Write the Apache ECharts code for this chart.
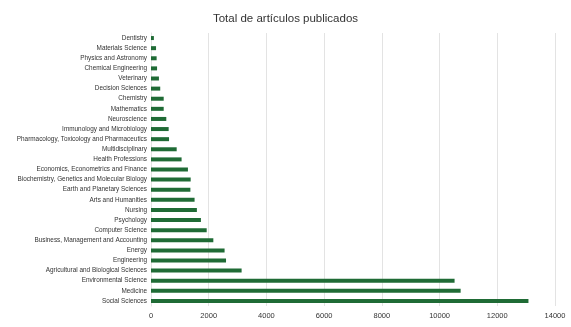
<!DOCTYPE html>
<html>
<head>
<meta charset="utf-8">
<script src="https://cdn.jsdelivr.net/npm/echarts@6/dist/echarts.min.js"></script>
<style>
  html, body { margin: 0; padding: 0; background: #fff; }
  #chart { width: 571px; height: 327px; }
</style>
</head>
<body>
<div id="chart"></div>
<script>
// categorias (de abajo hacia arriba)
const areas = [
  "Social Sciences", "Medicine", "Environmental Science",
  "Agricultural and Biological Sciences", "Engineering", "Energy",
  "Business, Management and Accounting", "Computer Science", "Psychology",
  "Nursing", "Arts and Humanities", "Earth and Planetary Sciences",
  "Biochemistry, Genetics and Molecular Biology", "Economics, Econometrics and Finance",
  "Health Professions", "Multidisciplinary", "Pharmacology, Toxicology and Pharmaceutics",
  "Immunology and Microbiology", "Neuroscience", "Mathematics", "Chemistry",
  "Decision Sciences", "Veterinary", "Chemical Engineering",
  "Physics and Astronomy", "Materials Science", "Dentistry"
];
const articulos = [
  13080, 10730, 10520, 3140, 2600, 2550, 2160, 1930, 1730,
  1590, 1510, 1365, 1375, 1280, 1060, 890, 625, 612, 530,
  440, 440, 320, 275, 210, 195, 175, 100
];
const xTicks = [0, 2000, 4000, 6000, 8000, 10000, 12000, 14000];

let chart = echarts.init(document.getElementById("chart"));

let option = {
  animation: false,
  title: {
    text: "Total de artículos publicados",
    left: "center",
    top: 8,
    textStyle: {
      fontFamily: "Liberation Sans",
      fontSize: 11.5,
      fontWeight: "normal",
      color: "#333",
    },
  },
  grid: {
    left: 151,
    right: 16,
    top: 33,
    bottom: 21,
    containLabel: false,
  },
  xAxis: {
    type: "value",
    min: xTicks[0],
    max: xTicks[xTicks.length - 1],
    interval: 2000,
    axisLine: { show: false },
    axisTick: { show: false },
    axisLabel: {
      fontFamily: "Liberation Sans",
      fontSize: 7.5,
      color: "#333",
      margin: 6,
      formatter: (v) => String(v),
    },
    splitLine: { lineStyle: { color: "#e3e3e3", width: 1 } },
  },
  yAxis: {
    type: "category",
    data: areas,
    axisLine: { show: true, lineStyle: { color: "#e3e3e3" } },
    axisTick: { show: false },
    axisLabel: {
      fontFamily: "Liberation Sans",
      fontSize: 6.4,
      color: "#333",
      margin: 4,
      interval: 0,
    },
  },
  series: [
    {
      type: "bar",
      data: articulos,
      barWidth: 4,
      itemStyle: { color: "#1f6b35" },
    },
  ],
};

chart.setOption(option);
</script>
</body>
</html>
